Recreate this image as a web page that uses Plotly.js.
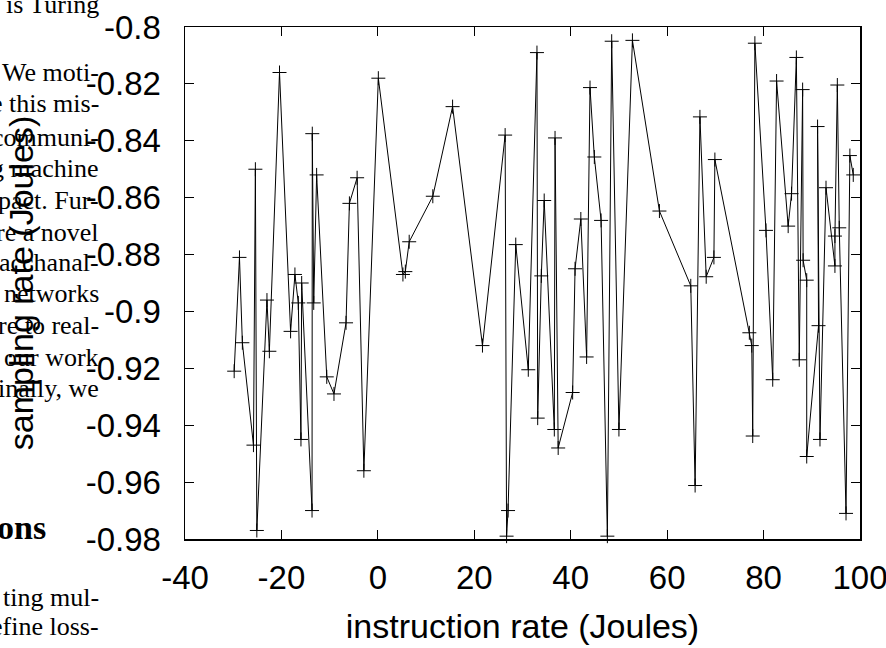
<!DOCTYPE html>
<html>
<head>
<meta charset="utf-8">
<script src="https://cdn.plot.ly/plotly-3.0.1.min.js"></script>
<style>
html,body{margin:0;padding:0;background:#fff;}
#chart{width:886px;height:648px;}
</style>
</head>
<body>
<div id="chart"></div>
<script>
// ---- data ----
const instructionRate = [
  -29.8, -28.7, -28.1, -25.8, -25.4, -25.1, -23.0, -22.5, -20.4, -18.1,
  -17.2, -16.5, -15.95, -15.8, -13.65, -13.6, -13.3, -12.7, -10.6, -9.1,
  -6.6, -5.9, -4.3, -2.9, 0.1, 5.2, 5.7, 6.5, 11.4, 15.5,
  21.7, 26.4, 26.7, 27.0, 28.6, 31.2, 33.0, 33.15, 33.9, 34.5,
  36.6, 36.75, 37.4, 40.4, 40.9, 42.1, 43.3, 44.0, 44.9, 46.3,
  47.6, 48.5, 50.0, 52.8, 58.4, 64.9, 65.8, 66.8, 68.1, 69.7,
  69.9, 77.05, 77.55, 77.75, 78.2, 80.5, 81.9, 82.7, 85.1, 85.8,
  86.8, 87.4, 88.1, 88.2, 88.95, 88.95, 91.4, 91.2, 91.7, 92.95,
  94.8, 94.8, 95.3, 95.7, 97.1, 97.9, 98.6
];
const samplingRate = [
  -0.921, -0.881, -0.911, -0.947, -0.850, -0.977, -0.896, -0.914, -0.816, -0.907,
  -0.887, -0.897, -0.945, -0.890, -0.970, -0.8375, -0.897, -0.852, -0.923, -0.929,
  -0.904, -0.862, -0.853, -0.956, -0.818, -0.887, -0.886, -0.8755, -0.8595, -0.828,
  -0.912, -0.838, -0.979, -0.970, -0.8765, -0.9205, -0.809, -0.9375, -0.8875, -0.861,
  -0.9415, -0.839, -0.948, -0.9285, -0.885, -0.8675, -0.916, -0.8213, -0.8457, -0.868,
  -0.979, -0.805, -0.9415, -0.8047, -0.8647, -0.891, -0.9612, -0.8316, -0.8878, -0.881,
  -0.8466, -0.9075, -0.912, -0.9438, -0.8057, -0.8715, -0.924, -0.819, -0.870, -0.8586,
  -0.8107, -0.917, -0.822, -0.882, -0.889, -0.951, -0.905, -0.835, -0.945, -0.8565,
  -0.884, -0.8735, -0.8204, -0.8706, -0.971, -0.8452, -0.852
];
const xTickVals = [-40, -20, 0, 20, 40, 60, 80, 100];
const xTickText = ["-40", "-20", "0", "20", "40", "60", "80", "100"];
const yTickVals = [-0.98, -0.96, -0.94, -0.92, -0.9, -0.88, -0.86, -0.84, -0.82, -0.8];
const yTickText = ["-0.98", "-0.96", "-0.94", "-0.92", "-0.9", "-0.88", "-0.86", "-0.84", "-0.82", "-0.8"];
const xTitle = "instruction rate (Joules)";
const yTitle = "sampling rate (Joules)";
// background paper text fragments (visible around the figure)
const paperLines = [
  "is Turing", "We moti-", "e this mis-", "communi-", "g machine", "pact. Fur-",
  "re a novel", "acchanal-", "networks", "re to real-", "our work", "inally, we"
];
const paperLinesLower = ["ting mul-", "efine loss-"];
const paperHeading = "ons";

// ---- layout helpers ----
const W = 886, H = 648;
const M = {l: 185, r: 26, t: 27, b: 109};
const plotW = W - M.l - M.r, plotH = H - M.t - M.b;
const px2x = p => (p - M.l) / plotW;
const py2y = p => (H - M.b - p) / plotH;

const serif = "Liberation Serif, Times New Roman, serif";
const sans = "Liberation Sans, Arial, Helvetica, sans-serif";

const upperY = [4, 72, 103, 137, 168, 200, 232, 262, 293, 325, 357, 388];
const lowerY = [597, 626];
const annotations = [];
paperLines.forEach((t, i) => annotations.push({
  text: t, xref: "paper", yref: "paper", x: px2x(101), y: py2y(upperY[i]),
  xanchor: "right", yanchor: "middle", showarrow: false,
  font: {family: serif, size: 26, color: "#000"}
}));
paperLinesLower.forEach((t, i) => annotations.push({
  text: t, xref: "paper", yref: "paper", x: px2x(101), y: py2y(lowerY[i]),
  xanchor: "right", yanchor: "middle", showarrow: false,
  font: {family: serif, size: 26, color: "#000"}
}));
annotations.push({
  text: "<b>" + paperHeading + "</b>", xref: "paper", yref: "paper", x: px2x(48), y: py2y(527),
  xanchor: "right", yanchor: "middle", showarrow: false,
  font: {family: serif, size: 34, color: "#000"}
});

const trace = {
  x: instructionRate, y: samplingRate,
  type: "scatter", mode: "lines+markers",
  line: {color: "#000", width: 1},
  marker: {symbol: "cross-thin", size: 10, color: "#000", line: {color: "#000", width: 1}},
  cliponaxis: false, hoverinfo: "none"
};

const axisCommon = {
  showgrid: false, zeroline: false, showline: true, linecolor: "#000", linewidth: 1.5,
  mirror: "allticks", ticks: "inside", ticklen: 9, tickwidth: 1, tickcolor: "#000",
  tickfont: {family: sans, size: 33, color: "#000"}, tickmode: "array",
  ticklabeloverflow: "allow"
};

const layout = {
  width: W, height: H,
  margin: M,
  paper_bgcolor: "#fff", plot_bgcolor: "#fff",
  showlegend: false,
  xaxis: Object.assign({}, axisCommon, {
    range: [-40, 100], tickvals: xTickVals, ticktext: xTickText,
    ticklabelstandoff: 9,
    title: {text: xTitle, font: {family: sans, size: 34, color: "#000"}, standoff: 19}
  }),
  yaxis: Object.assign({}, axisCommon, {
    range: [-0.98, -0.8], tickvals: yTickVals, ticktext: yTickText,
    ticklabelstandoff: 16,
    title: {text: yTitle, font: {family: sans, size: 34, color: "#000"}, standoff: 42}
  }),
  annotations: annotations
};

Plotly.newPlot("chart", [trace], layout, {staticPlot: true, displayModeBar: false});
</script>
</body>
</html>
